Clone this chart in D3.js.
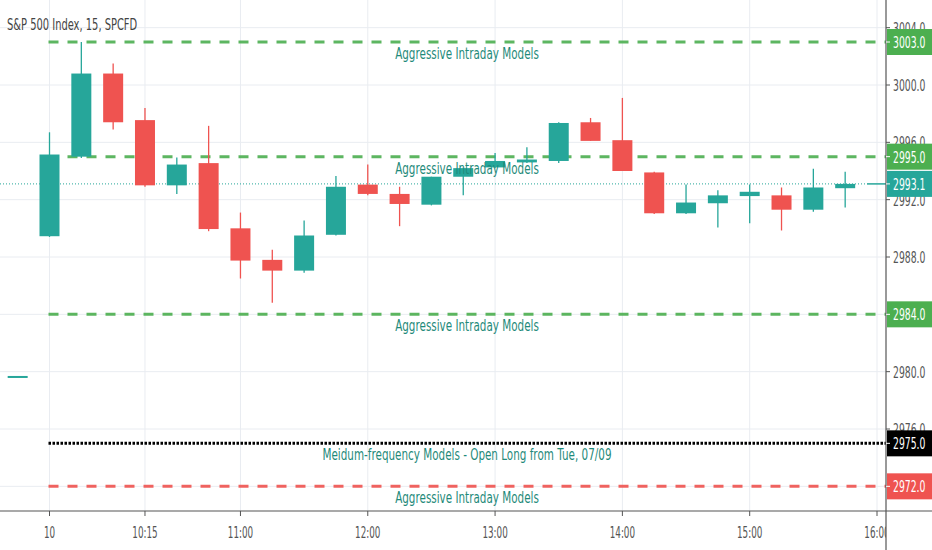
<!DOCTYPE html>
<html lang="en">
<head>
    <meta charset="UTF-8">
    <title>S&P 500 Index, 15, SPCFD</title>
    <script src="https://cdn.jsdelivr.net/npm/d3@7/dist/d3.min.js"></script>
    <style>
        body { margin: 0; background: #fff; }
        text { font-family: 'DejaVu Sans', sans-serif; }
    </style>
</head>
<body>
<script type="application/javascript">
    // bar index 0 = 09:30, step 15 min; -1 is last bar of the previous session
    const barIndex = d3.range(-1, 26);
    const opens  = [2979.7, 2989.45, 2995.0, 3000.8, 2997.55, 2993.0, 2994.55, 2990.0, 2987.8, 2987.05, 2989.55,
        2993.05, 2992.4, 2991.65, 2993.6, 2994.25, 2994.6, 2994.7, 2997.4, 2996.15, 2993.9,
        2991.05, 2991.75, 2992.25, 2992.3, 2991.3, 2992.8];
    const highs  = [2979.7, 2996.7, 3003.0, 3001.5, 2998.4, 2994.95, 2997.15, 2991.1, 2988.5, 2990.55, 2993.65,
        2994.45, 2992.9, 2993.6, 2994.25, 2995.25, 2995.65, 2997.4, 2997.7, 2999.1, 2993.95,
        2993.05, 2992.65, 2993.05, 2992.85, 2994.15, 2993.95];
    const lows   = [2979.7, 2989.4, 2994.9, 2996.9, 2992.9, 2992.4, 2989.8, 2986.5, 2984.8, 2986.9, 2989.5,
        2992.3, 2990.15, 2991.6, 2992.3, 2994.2, 2994.55, 2994.55, 2996.1, 2994.0, 2991.0,
        2991.0, 2990.05, 2990.35, 2989.85, 2991.15, 2991.45];
    const closes = [2979.7, 2995.15, 3000.8, 2997.4, 2993.0, 2994.45, 2989.95, 2987.75, 2987.05, 2989.5, 2992.9,
        2992.4, 2991.7, 2993.6, 2994.2, 2994.7, 2994.8, 2997.35, 2996.1, 2994.0, 2991.05,
        2991.8, 2992.3, 2992.55, 2991.3, 2992.85, 2993.1];

    const timeTicks = [0, 3, 6, 10, 14, 18, 22, 26];
    const timeLabels = ['10', '10:15', '11:00', '12:00', '13:00', '14:00', '15:00', '16:00'];
    const priceTicks = d3.range(2972, 3008, 4);

    const levelPrices = [3003.0, 2995.0, 2984.0, 2972.0];
    const levelColors = ['#4caf50', '#4caf50', '#4caf50', '#ef5350'];
    const levelText = 'Aggressive Intraday Models';
    const mfPrice = 2975.0;
    const mfText = 'Meidum-frequency Models - Open Long from Tue, 07/09';
    const lastPrice = 2993.1;

    const w = 932, h = 550;
    const plotR = 886, plotB = 511;
    const up = '#26a69a', down = '#ef5350', textTeal = '#1f8a7a';

    const svg = d3.select('body').append('svg').attr('width', w).attr('height', h);

    const x = d3.scaleLinear().domain([0, 26]).range([49.5, 877]);
    const y = d3.scaleLinear().domain([3000, 2988]).range([85, 257]);

    // the screenshot is squeezed horizontally, so text gets an x-scale
    function label(g, tx, ty, str, size, fill, anchor, sx) {
        return g.append('text')
            .attr('transform', 'translate(' + tx + ',' + ty + ') scale(' + sx + ',1)')
            .attr('font-size', size)
            .attr('fill', fill)
            .attr('text-anchor', anchor || 'start')
            .text(str);
    }

    svg.append('clipPath').attr('id', 'plot')
        .append('rect').attr('width', plotR).attr('height', plotB);

    // grid
    const grid = svg.append('g').attr('clip-path', 'url(#plot)');
    grid.selectAll('.hg').data(priceTicks).enter().append('line')
        .attr('x1', 0).attr('x2', plotR)
        .attr('y1', d => y(d)).attr('y2', d => y(d))
        .attr('stroke', '#e9ecf1').attr('stroke-width', 1);
    grid.selectAll('.vg').data(timeTicks).enter().append('line')
        .attr('x1', d => x(d)).attr('x2', d => x(d))
        .attr('y1', 0).attr('y2', plotB)
        .attr('stroke', '#e9ecf1').attr('stroke-width', 1);

    const plot = svg.append('g').attr('clip-path', 'url(#plot)');

    // model levels
    plot.selectAll('.lvl').data(levelPrices).enter().append('line')
        .attr('x1', x(0) - 1).attr('x2', plotR)
        .attr('y1', d => y(d)).attr('y2', d => y(d))
        .attr('stroke', (d, i) => levelColors[i]).attr('stroke-width', 3)
        .attr('stroke-dasharray', '10,9').attr('opacity', 0.9);
    plot.append('line')
        .attr('x1', x(0) - 1).attr('x2', plotR)
        .attr('y1', y(mfPrice)).attr('y2', y(mfPrice))
        .attr('stroke', '#000').attr('stroke-width', 3)
        .attr('stroke-dasharray', '2.5,1.5');

    // last price line
    plot.append('line')
        .attr('x1', 0).attr('x2', 867)
        .attr('y1', y(lastPrice)).attr('y2', y(lastPrice))
        .attr('stroke', up).attr('stroke-width', 1).attr('stroke-dasharray', '1,2');
    plot.append('line')
        .attr('x1', 867).attr('x2', plotR)
        .attr('y1', y(lastPrice)).attr('y2', y(lastPrice))
        .attr('stroke', up).attr('stroke-width', 1.5);

    // candles
    const bars = barIndex.map((b, i) => ({ b: b, o: opens[i], hi: highs[i], lo: lows[i], c: closes[i] }));
    const bw = 20;
    const cg = plot.selectAll('.candle').data(bars).enter().append('g');
    cg.append('line')
        .attr('x1', d => x(d.b)).attr('x2', d => x(d.b))
        .attr('y1', d => y(d.hi)).attr('y2', d => y(d.lo))
        .attr('stroke', d => d.c >= d.o ? up : down).attr('stroke-width', 1.3);
    cg.append('rect')
        .attr('x', d => x(d.b) - bw / 2)
        .attr('y', d => y(Math.max(d.o, d.c)))
        .attr('width', bw)
        .attr('height', d => Math.max(2, y(Math.min(d.o, d.c)) - y(Math.max(d.o, d.c))))
        .attr('fill', d => d.c >= d.o ? up : down);

    // level labels
    const tg = svg.append('g');
    levelPrices.forEach(p => label(tg, 467, y(p) + 17, levelText, 16, textTeal, 'middle', 0.65));
    label(tg, 467, y(mfPrice) + 17, mfText, 16, textTeal, 'middle', 0.65);

    // title
    label(svg, 7, 30, 'S&P 500 Index, 15, SPCFD', 16, '#444', 'start', 0.62);

    // bottom axis
    svg.append('line').attr('x1', 0).attr('x2', w).attr('y1', plotB).attr('y2', plotB)
        .attr('stroke', '#555').attr('stroke-width', 1.2);
    svg.append('clipPath').attr('id', 'xclip').append('rect').attr('width', plotR).attr('height', h);
    const xa = svg.append('g').attr('clip-path', 'url(#xclip)');
    xa.selectAll('.xt').data(timeTicks).enter().append('line')
        .attr('x1', d => x(d)).attr('x2', d => x(d))
        .attr('y1', plotB).attr('y2', plotB + 5)
        .attr('stroke', '#555');
    timeTicks.forEach((t, i) => label(xa, x(t), 538, timeLabels[i], 16, '#555', 'middle', 0.55));

    // right price axis
    svg.append('line').attr('x1', plotR).attr('x2', plotR).attr('y1', 0).attr('y2', h)
        .attr('stroke', '#555').attr('stroke-width', 1.2);
    const ya = svg.append('g');
    priceTicks.forEach(p => {
        ya.append('line').attr('x1', plotR).attr('x2', plotR + 4)
            .attr('y1', y(p)).attr('y2', y(p)).attr('stroke', '#555');
        label(ya, plotR + 7, y(p) + 6, d3.format('.1f')(p), 16, '#555', 'start', 0.58);
    });

    // price tags
    const tags = levelPrices.map((p, i) => ({ p: p, c: levelColors[i] }))
        .concat([{ p: lastPrice, c: up }, { p: mfPrice, c: '#000' }]);
    tags.forEach(t => {
        ya.append('rect').attr('x', plotR + 1).attr('y', y(t.p) - 13)
            .attr('width', w - plotR).attr('height', 26).attr('fill', t.c);
        ya.append('line').attr('x1', plotR).attr('x2', plotR + 4)
            .attr('y1', y(t.p)).attr('y2', y(t.p)).attr('stroke', '#fff');
        label(ya, plotR + 7, y(t.p) + 6, d3.format('.1f')(t.p), 16, '#fff', 'start', 0.58);
    });
</script>
</body>
</html>
